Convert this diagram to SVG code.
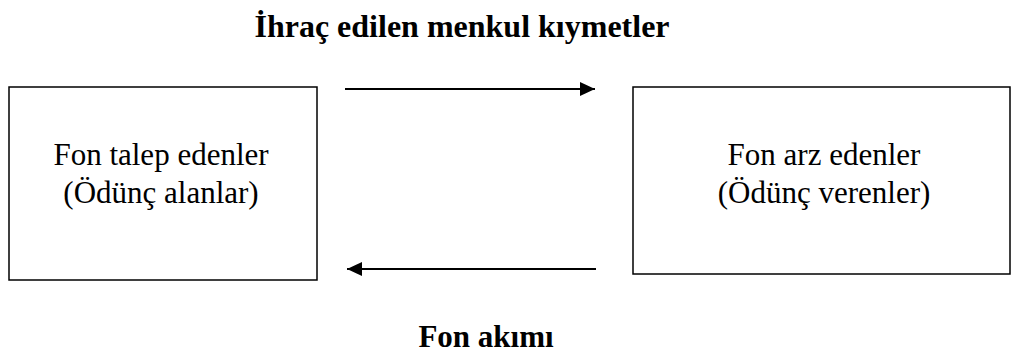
<svg xmlns="http://www.w3.org/2000/svg" width="1011" height="356" viewBox="0 0 1011 356">
<style>
.box{fill:#fff;stroke:#000;stroke-width:1.5}
.t{font-family:"Liberation Serif","Times New Roman",serif;font-size:31px;fill:#000;text-anchor:middle}
.b{font-family:"Liberation Serif","Times New Roman",serif;font-size:31px;font-weight:bold;fill:#000;text-anchor:middle}
.c{stroke:#000;stroke-width:2;fill:none}
</style>
<defs>
<marker id="ah" markerWidth="15" markerHeight="14" refX="15" refY="7" orient="auto" markerUnits="userSpaceOnUse">
<path d="M0,0 L15,7 L0,14 z" fill="#000"/>
</marker>
</defs>
<rect width="1011" height="356" fill="#fff"/>
<text class="b" x="462" y="37" style="font-size:32px">İhraç edilen menkul kıymetler</text>
<g id="node-demand">
<rect class="box" x="9" y="87" width="308" height="193"/>
<text class="t" x="161" y="165">Fon talep edenler</text>
<text class="t" x="161" y="203">(Ödünç alanlar)</text>
</g>
<g id="node-supply">
<rect class="box" x="633" y="87" width="377" height="187"/>
<text class="t" x="824" y="165">Fon arz edenler</text>
<text class="t" x="824" y="203">(Ödünç verenler)</text>
</g>
<g id="connectors">
<line class="c" x1="345" y1="89" x2="595" y2="89" marker-end="url(#ah)"/>
<line class="c" x1="596" y1="269" x2="347" y2="269" marker-end="url(#ah)"/>
</g>
<text class="b" x="486" y="347">Fon akımı</text>
</svg>
